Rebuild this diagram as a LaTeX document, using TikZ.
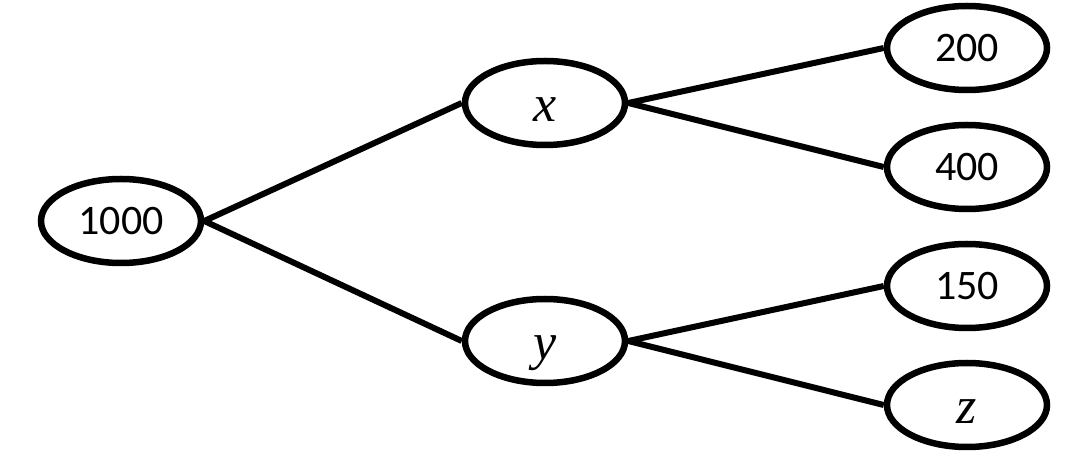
\documentclass[tikz,border=0pt]{standalone}
\usepackage{fontspec}
\setmainfont{Carlito}
\newfontfamily\varfont{Liberation Serif}
\usetikzlibrary{shapes.geometric}
\tikzset{
  oval/.style={ellipse, draw=black, line width=6.5pt, minimum width=160pt, minimum height=84pt, inner sep=0pt, font=\fontsize{42}{46}\selectfont},
  varoval/.style={oval, font=\varfont\itshape\fontsize{52}{56}\selectfont},
  link/.style={line width=6pt}
}
\newcommand{\lowvar}[1]{\raisebox{-19pt}[0pt][0pt]{#1}}
\begin{document}
\begin{tikzpicture}[x=1pt,y=1pt]
\useasboundingbox (0,0) rectangle (1080,474);
\node[oval] (root) at (121,253) {1000};
\node[varoval] (x) at (545,371) {\lowvar{x}};
\node[varoval] (y) at (545,133) {\lowvar{y}};
\node[oval] (a) at (967,426) {200};
\node[oval] (b) at (967,307) {400};
\node[oval] (c) at (967,188) {150};
\node[varoval] (z) at (967,69) {\lowvar{z}};
\draw[link] (root.east) -- (x.west);
\draw[link] (root.east) -- (y.west);
\draw[link] (x.east) -- (a.west);
\draw[link] (x.east) -- (b.west);
\draw[link] (y.east) -- (c.west);
\draw[link] (y.east) -- (z.west);
\end{tikzpicture}
\end{document}
